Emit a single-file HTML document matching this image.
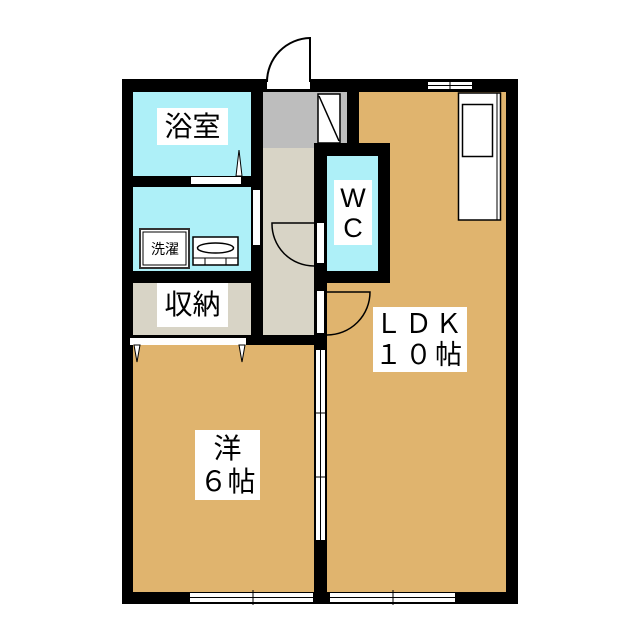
<!DOCTYPE html>
<html><head><meta charset="utf-8"><style>
body{margin:0;background:#fff;}
.l{position:absolute;background:#fff;font-family:"Liberation Sans","Noto Sans CJK JP",sans-serif;color:#000;text-align:center;}
</style></head><body>
<div style="position:relative;width:640px;height:640px;">
<svg width="640" height="640" style="position:absolute;left:0;top:0">
<rect x="122" y="79" width="396" height="525" fill="#000"/>
<rect x="133" y="92" width="118" height="84" fill="#aef0f8"/>
<rect x="133" y="187" width="118" height="84" fill="#aef0f8"/>
<rect x="133" y="283" width="118" height="52" fill="#d8d4c6"/>
<rect x="263" y="92" width="84" height="56" fill="#bdbdbd"/>
<rect x="263" y="148" width="51" height="187" fill="#d8d4c6"/>
<rect x="359" y="92" width="147" height="51" fill="#e0b46e"/>
<rect x="327" y="143" width="179" height="449" fill="#e0b46e"/>
<rect x="327" y="156" width="51" height="115" fill="#aef0f8"/>
<rect x="133" y="345" width="181" height="247" fill="#e0b46e"/>
<rect x="347" y="92" width="12" height="51" fill="#000"/>
<rect x="314" y="143" width="76" height="13" fill="#000"/>
<rect x="378" y="143" width="12" height="140" fill="#000"/>
<rect x="314" y="271" width="76" height="12" fill="#000"/>
<rect x="267" y="82" width="43" height="7" fill="#fff"/>
<path d="M310 82 L310 38 A44 44 0 0 0 267 82" fill="#fff" stroke="#000" stroke-width="2"/>
<rect x="318" y="94" width="22" height="49" fill="#fff" stroke="#000" stroke-width="1.5"/>
<line x1="319" y1="96" x2="339" y2="141" stroke="#000" stroke-width="1.5"/>
<rect x="191" y="177" width="50" height="7" fill="#fff"/>
<path d="M236 176 L239 150 L242 176 Z" fill="#fff" stroke="#000" stroke-width="1"/>
<rect x="253" y="190" width="7" height="55" fill="#fff"/>
<rect x="130" y="338" width="116" height="7" fill="#fff"/>
<path d="M134 345 L137 362 L140 345 Z" fill="#fff" stroke="#000" stroke-width="1"/>
<path d="M239 345 L242 362 L245 345 Z" fill="#fff" stroke="#000" stroke-width="1"/>
<path d="M314 223 L272 223 A42 42 0 0 0 314 266" fill="none" stroke="#000" stroke-width="1.5"/>
<rect x="317" y="223" width="7" height="40" fill="#fff"/>
<path d="M327 292 L370 292 A43 43 0 0 1 327 335" fill="none" stroke="#000" stroke-width="1.5"/>
<rect x="317" y="291" width="7" height="42" fill="#fff"/>
<rect x="316" y="350" width="9" height="190" fill="#fff"/>
<line x1="320.5" y1="350" x2="320.5" y2="540" stroke="#000" stroke-width="1"/>
<line x1="314" y1="413" x2="327" y2="413" stroke="#000" stroke-width="1"/>
<line x1="314" y1="477" x2="327" y2="477" stroke="#000" stroke-width="1"/>
<rect x="190" y="593" width="123" height="9" fill="#fff"/>
<line x1="190" y1="597.5" x2="313" y2="597.5" stroke="#000"/>
<line x1="253" y1="590" x2="253" y2="605" stroke="#000"/>
<rect x="330" y="593" width="125" height="9" fill="#fff"/>
<line x1="330" y1="597.5" x2="455" y2="597.5" stroke="#000"/>
<line x1="393" y1="590" x2="393" y2="605" stroke="#000"/>
<rect x="428" y="82" width="44" height="7" fill="#fff"/>
<line x1="428" y1="85.5" x2="472" y2="85.5" stroke="#000"/>
<line x1="450" y1="79" x2="450" y2="92" stroke="#000"/>
<rect x="458.5" y="93" width="42" height="127" fill="#fff" stroke="#000" stroke-width="1.5"/>
<line x1="497" y1="93" x2="497" y2="220" stroke="#000" stroke-width="1"/>
<rect x="462.5" y="104.5" width="30" height="52" fill="#fff" stroke="#000" stroke-width="1.5"/>
<rect x="140" y="229" width="49" height="39" fill="#fff" stroke="#333" stroke-width="2"/>
<rect x="143" y="232" width="43" height="33" fill="#fff" stroke="#000" stroke-width="1"/>
<rect x="193" y="237" width="45" height="28" fill="#fff" stroke="#000" stroke-width="1.5"/>
<ellipse cx="215.5" cy="248" rx="18" ry="5" fill="none" stroke="#000" stroke-width="1.5"/>
<line x1="193" y1="258" x2="238" y2="258" stroke="#000"/>
<line x1="205" y1="258" x2="205" y2="265" stroke="#000"/>
<line x1="226" y1="258" x2="226" y2="265" stroke="#000"/>
</svg>
<div class="l" style="left:157px;top:108px;width:71px;height:37px;font-size:28px;line-height:37px">浴室</div>
<div class="l" style="left:147px;top:236px;width:36px;height:26px;font-size:14px;line-height:26px">洗濯</div>
<div class="l" style="left:334px;top:180px;width:38px;height:65px;font-size:27px;line-height:30px;padding-top:3px;box-sizing:border-box">W<br>C</div>
<div class="l" style="left:157px;top:283px;width:71px;height:44px;font-size:28px;line-height:44px">収納</div>
<div class="l" style="left:373px;top:307px;width:94px;height:65px;font-size:27px;line-height:31px;padding-top:2px;box-sizing:border-box;letter-spacing:3px">ＬＤＫ<br>１０帖</div>
<div class="l" style="left:195px;top:430px;width:65px;height:70px;font-size:28px;line-height:33px;padding-top:2px;box-sizing:border-box">洋<br>６帖</div>
</div>
</body></html>
